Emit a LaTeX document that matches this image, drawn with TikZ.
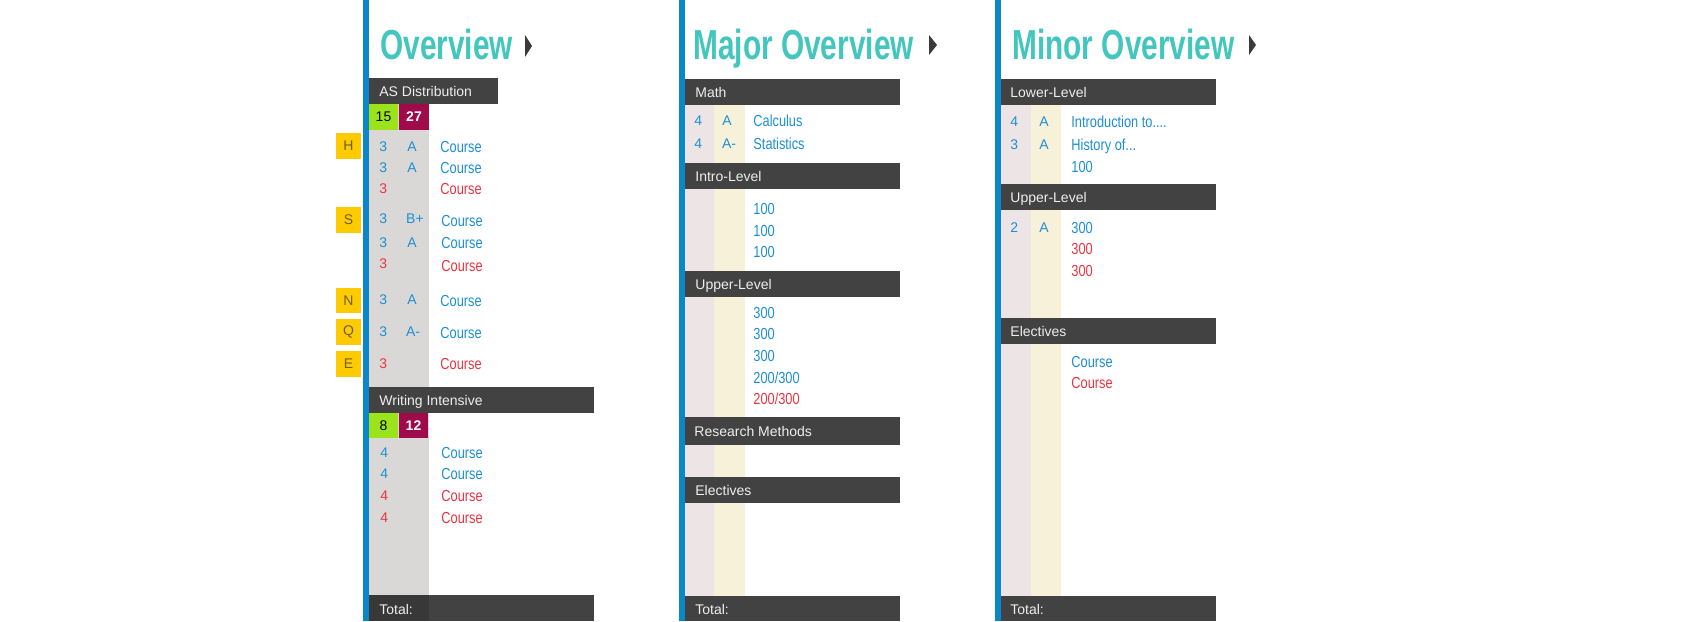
\documentclass[tikz,border=0pt]{standalone}
\usepackage{fontspec}
\setmainfont{Liberation Sans}
\newfontfamily\condfont[FakeStretch=0.8]{Liberation Sans}
\newfontfamily\ttlfont[FakeStretch=0.71]{Liberation Sans}
\definecolor{barblue}{HTML}{0A87C8}
\definecolor{ttlteal}{HTML}{43C6BE}
\definecolor{hdrgray}{HTML}{424242}
\definecolor{hdrtxt}{HTML}{EEEEEE}
\definecolor{lime}{HTML}{9BE31B}
\definecolor{plum}{HTML}{9F0A4A}
\definecolor{colgray}{HTML}{DAD8D6}
\definecolor{colpink}{HTML}{EDE4E6}
\definecolor{colcream}{HTML}{F8F1DA}
\definecolor{ybox}{HTML}{FECB00}
\definecolor{ytxt}{HTML}{6E5E2A}
\definecolor{tblue}{HTML}{1E8FD5}
\definecolor{tred}{HTML}{EE3342}
\definecolor{arrgray}{HTML}{3A3A3A}
\tikzset{
  htext/.style={anchor=base west, inner sep=0pt, font=\fontsize{7}{8}\selectfont, text=hdrtxt},
  numtxt/.style={anchor=base west, inner sep=0pt, font=\fontsize{7}{8}\selectfont, text=tblue},
  grdtxt/.style={anchor=base, inner sep=0pt, font=\fontsize{7}{8}\selectfont, text=tblue},
  crs/.style={anchor=base west, inner sep=0pt, font=\condfont\fontsize{8}{9}\selectfont, text=tblue},
  redtxt/.style={text=tred},
  ttl/.style={anchor=base west, inner sep=0pt, font=\ttlfont\bfseries\fontsize{21}{22}\selectfont, text=ttlteal},
  lettr/.style={anchor=center, inner sep=0pt, font=\fontsize{7}{8}\selectfont, text=ytxt},
  boxnum/.style={anchor=center, inner sep=0pt, font=\fontsize{7}{8}\selectfont},
}
\begin{document}
\begin{tikzpicture}[x=0.5pt, y=-0.5pt]
\useasboundingbox (0,0) rectangle (1696,621);
\fill[white] (0,0) rectangle (1696,621);

%================ Column 1: Overview ================
\fill[barblue] (363,0) rectangle (369,621);
\fill[colgray] (369,104) rectangle (429,596);
\node[ttl] (t1) at (380,59) {Overview};
\fill[arrgray] (525,35) -- (532,46) -- (525,57) -- cycle;

\fill[hdrgray] (369,78) rectangle (498,104);
\node[htext] (h1a) at (379,96) {AS Distribution};
\fill[lime] (369,104) rectangle (398,130);
\fill[plum] (399,104) rectangle (429,130);
\node[boxnum, text=black] (b15) at (383.5,117) {15};
\node[boxnum, text=white, font=\bfseries\fontsize{7}{8}\selectfont] (b27) at (414,117) {27};

% yellow letter boxes
\fill[ybox] (336,133) rectangle (361,159); \node[lettr] (lH) at (348.5,146) {H};
\fill[ybox] (336,207) rectangle (361,233); \node[lettr] (lS) at (348.5,220) {S};
\fill[ybox] (336,288) rectangle (361,313); \node[lettr] (lN) at (348.5,300.5) {N};
\fill[ybox] (336,319) rectangle (361,345); \node[lettr] (lQ) at (348.5,332) {Q};
\fill[ybox] (336,351) rectangle (361,377); \node[lettr] (lE) at (348.5,364) {E};

% AS rows
\node[numtxt] (r1n) at (379,151) {3}; \node[grdtxt] (r1g) at (412,151) {A}; \node[crs] (r1c) at (440,152) {Course};
\node[numtxt] (r2n) at (379,172) {3}; \node[grdtxt] (r2g) at (412,172) {A}; \node[crs] (r2c) at (440,173) {Course};
\node[numtxt, redtxt] (r3n) at (379,193) {3}; \node[crs, redtxt] (r3c) at (440,194) {Course};
\node[numtxt] (r4n) at (379,223) {3}; \node[grdtxt] (r4g) at (415,223) {B+}; \node[crs] (r4c) at (441,226) {Course};
\node[numtxt] (r5n) at (379,247) {3}; \node[grdtxt] (r5g) at (412,247) {A}; \node[crs] (r5c) at (441,248) {Course};
\node[numtxt, redtxt] (r6n) at (379,268) {3}; \node[crs, redtxt] (r6c) at (441,271) {Course};
\node[numtxt] (r7n) at (379,304) {3}; \node[grdtxt] (r7g) at (412,304) {A}; \node[crs] (r7c) at (440,306) {Course};
\node[numtxt] (r8n) at (379,336) {3}; \node[grdtxt] (r8g) at (413,336) {A-}; \node[crs] (r8c) at (440,338) {Course};
\node[numtxt, redtxt] (r9n) at (379,368) {3}; \node[crs, redtxt] (r9c) at (440,369) {Course};

% Writing Intensive
\fill[hdrgray] (369,387) rectangle (594,413);
\node[htext] (h1b) at (379,405) {Writing Intensive};
\fill[lime] (369,413) rectangle (398,438);
\fill[plum] (399,413) rectangle (428,438);
\node[boxnum, text=black] (b8) at (383.5,425.5) {8};
\node[boxnum, text=white, font=\bfseries\fontsize{7}{8}\selectfont] (b12) at (413.5,425.5) {12};
\node[numtxt] (w1n) at (380,457) {4}; \node[crs] (w1c) at (441,458) {Course};
\node[numtxt] (w2n) at (380,478) {4}; \node[crs] (w2c) at (441,479) {Course};
\node[numtxt, redtxt] (w3n) at (380,500) {4}; \node[crs, redtxt] (w3c) at (441,501) {Course};
\node[numtxt, redtxt] (w4n) at (380,522) {4}; \node[crs, redtxt] (w4c) at (441,523) {Course};

\fill[hdrgray] (369,595) rectangle (594,621);
\fill[black, opacity=0.15] (369,595) rectangle (429,621);
\node[htext] (tot1) at (379,614) {Total:};

%================ Column 2: Major Overview ================
\fill[barblue] (679,0) rectangle (685,621);
\fill[colpink] (685,105) rectangle (714,596);
\fill[colcream] (714,105) rectangle (745,596);
\node[ttl] (t2) at (693,59) {Major Overview};
\fill[arrgray] (929,35) -- (937,45) -- (929,55) -- cycle;

\fill[hdrgray] (685,79) rectangle (900,105);
\node[htext] (h2a) at (695,97) {Math};
\node[numtxt] (m1n) at (694,125) {4}; \node[grdtxt] (m1g) at (727,125) {A}; \node[crs] (m1c) at (753,126) {Calculus};
\node[numtxt] (m2n) at (694,148) {4}; \node[grdtxt] (m2g) at (729,148) {A-}; \node[crs] (m2c) at (753,149) {Statistics};

\fill[hdrgray] (685,163) rectangle (900,189);
\node[htext] (h2b) at (695,181) {Intro-Level};
\node[crs] (i1) at (753,214) {100};
\node[crs] (i2) at (753,236) {100};
\node[crs] (i3) at (753,257) {100};

\fill[hdrgray] (685,271) rectangle (900,297);
\node[htext] (h2c) at (695,289) {Upper-Level};
\node[crs] (u1) at (753,318) {300};
\node[crs] (u2) at (753,339) {300};
\node[crs] (u3) at (753,361) {300};
\node[crs] (u4) at (753,383) {200/300};
\node[crs, redtxt] (u5) at (753,404) {200/300};

\fill[hdrgray] (685,417) rectangle (900,445);
\node[htext] (h2d) at (694,436) {Research Methods};

\fill[hdrgray] (685,477) rectangle (900,503);
\node[htext] (h2e) at (695,495) {Electives};

\fill[hdrgray] (685,596) rectangle (900,621);
\node[htext] (tot2) at (695,614) {Total:};

%================ Column 3: Minor Overview ================
\fill[barblue] (995,0) rectangle (1001,621);
\fill[colpink] (1001,105) rectangle (1031,596);
\fill[colcream] (1031,105) rectangle (1061,596);
\node[ttl] (t3) at (1012,59) {Minor Overview};
\fill[arrgray] (1249,35) -- (1256,45) -- (1249,55) -- cycle;

\fill[hdrgray] (1001,79) rectangle (1216,105);
\node[htext] (h3a) at (1010,97) {Lower-Level};
\node[numtxt] (n1n) at (1010,126) {4}; \node[grdtxt] (n1g) at (1044,126) {A}; \node[crs] (n1c) at (1071,127) {Introduction to....};
\node[numtxt] (n2n) at (1010,149) {3}; \node[grdtxt] (n2g) at (1044,149) {A}; \node[crs] (n2c) at (1071,150) {History of...};
\node[crs] (n3c) at (1071,172) {100};

\fill[hdrgray] (1001,184) rectangle (1216,210);
\node[htext] (h3b) at (1010,202) {Upper-Level};
\node[numtxt] (p1n) at (1010,232) {2}; \node[grdtxt] (p1g) at (1044,232) {A}; \node[crs] (p1c) at (1071,233) {300};
\node[crs, redtxt] (p2c) at (1071,254) {300};
\node[crs, redtxt] (p3c) at (1071,276) {300};

\fill[hdrgray] (1001,318) rectangle (1216,344);
\node[htext] (h3c) at (1010,336) {Electives};
\node[crs] (e1c) at (1071,367) {Course};
\node[crs, redtxt] (e2c) at (1071,388) {Course};

\fill[hdrgray] (1001,596) rectangle (1216,621);
\node[htext] (tot3) at (1010,614) {Total:};
\end{tikzpicture}
\end{document}
